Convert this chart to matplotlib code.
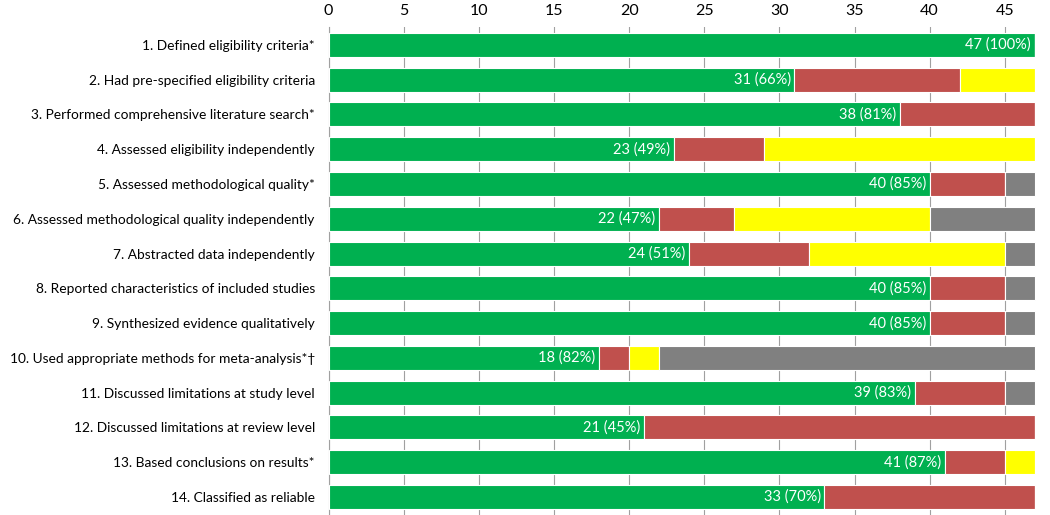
import matplotlib.pyplot as plt
import numpy as np

plt.rcParams['font.family'] = ['Lato', 'DejaVu Sans']

# Items of the assessment
items = [
    "1. Defined eligibility criteria*",
    "2. Had pre-specified eligibility criteria",
    "3. Performed comprehensive literature search*",
    "4. Assessed eligibility independently",
    "5. Assessed methodological quality*",
    "6. Assessed methodological quality independently",
    "7. Abstracted data independently",
    "8. Reported characteristics of included studies",
    "9. Synthesized evidence qualitatively",
    "10. Used appropriate methods for meta-analysis*\u2020",
    "11. Discussed limitations at study level",
    "12. Discussed limitations at review level",
    "13. Based conclusions on results*",
    "14. Classified as reliable",
]

# Counts per category
green = [47, 31, 38, 23, 40, 22, 24, 40, 40, 18, 39, 21, 41, 33]
red = [0, 11, 9, 6, 5, 5, 8, 5, 5, 2, 6, 26, 4, 14]
yellow = [0, 5, 0, 18, 0, 13, 13, 0, 0, 2, 0, 0, 2, 0]
gray = [0, 0, 0, 0, 2, 7, 2, 2, 2, 25, 2, 0, 0, 0]
labels = ["47 (100%)", "31 (66%)", "38 (81%)", "23 (49%)", "40 (85%)", "22 (47%)",
          "24 (51%)", "40 (85%)", "40 (85%)", "18 (82%)", "39 (83%)", "21 (45%)",
          "41 (87%)", "33 (70%)"]

colors = ["#00B050", "#C0504D", "#FFFF00", "#808080"]

fig = plt.figure(figsize=(10.5, 5.15), dpi=100)
ax = fig.add_axes([0.313, 0.0, 0.674, 0.948])

y = np.arange(len(items))
left = np.zeros(len(items))
for vals, c in zip([green, red, yellow, gray], colors):
    vals = np.array(vals)
    ax.barh(y, vals, left=left, height=0.69, color=c, edgecolor="white",
            linewidth=0.8, zorder=3)
    left += vals

for i, (g, lab) in enumerate(zip(green, labels)):
    ax.text(g - 0.25, i, lab, color="white", ha="right", va="center",
            fontsize=10.5, zorder=4)

ax.set_xlim(0, 47.1)
ax.set_ylim(len(items) - 0.48, -0.52)
ax.set_xticks(np.arange(0, 50, 5))
ax.xaxis.tick_top()
ax.tick_params(axis="x", length=0, labelsize=11.5, pad=6)
ax.set_yticks(y)
ax.set_yticklabels(items, fontsize=9.9)
ax.tick_params(axis="y", length=0, pad=10)
ax.grid(axis="x", color="#A0A0A0", linewidth=0.8, zorder=0)
for s in ["top", "right", "bottom"]:
    ax.spines[s].set_visible(False)
ax.spines["left"].set_color("#A0A0A0")

plt.savefig("out.png")
